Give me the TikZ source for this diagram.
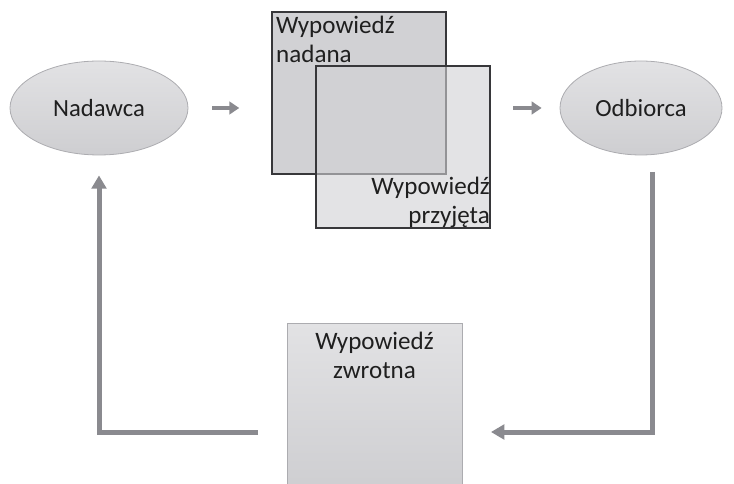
\documentclass[tikz,border=0pt]{standalone}
\usepackage{fontspec}
\setmainfont{Carlito}
\usetikzlibrary{shapes.geometric,arrows.meta}

\definecolor{arrowgray}{RGB}{138,138,143}
\definecolor{boxborder}{RGB}{55,55,58}
\definecolor{boxfill}{RGB}{209,209,212}
\definecolor{ovaltop}{RGB}{226,226,228}
\definecolor{ovalbottom}{RGB}{206,206,209}
\definecolor{ovalborder}{RGB}{172,172,176}

\begin{document}
\begin{tikzpicture}[x=0.75pt, y=-0.75pt,
  oval/.style={ellipse, draw=ovalborder, line width=0.6pt, top color=ovaltop, bottom color=ovalbottom, inner sep=0pt, font=\fontsize{18.5}{22}\selectfont, text=black!88},
  frame/.style={rectangle, draw=boxborder, line width=1.1pt, fill=boxfill, minimum width=130.5pt, minimum height=121.5pt},
  boxtext/.style={font=\fontsize{18.8}{21.5}\selectfont, text=black!88},
  smallarrow/.style={draw=arrowgray, line width=3pt, -{Triangle[length=7.5pt,width=9.5pt]}},
  feedback/.style={draw=arrowgray, line width=3.75pt, -{Triangle[length=10pt,width=11pt]}}]
\useasboundingbox (0,0) rectangle (734,484);
% senders and receivers
\node[oval, minimum width=133.5pt, minimum height=70.5pt] (nadawca) at (99,108) {Nadawca};
\node[oval, minimum width=121.5pt, minimum height=70.5pt] (odbiorca) at (641,108) {Odbiorca};
% message boxes
\node[frame] (nadana) at (359,93) {};
\node[frame, fill opacity=0.6] (przyjeta) at (403,147) {};
\node[boxtext, anchor=north west, align=left, inner sep=3.5pt] (tnadana) at (nadana.north west) {Wypowiedź\\nadana};
\node[boxtext, anchor=south east, align=right, inner sep=0.5pt] (tprzyjeta) at (przyjeta.south east) {Wypowiedź\\przyjęta};
% feedback box
\node[rectangle, draw=ovalborder, line width=0.6pt, top color=ovaltop, bottom color=ovalbottom, minimum width=131.25pt, minimum height=125.25pt] (zwrotna) at (374.5,406.5) {};
\node[boxtext, anchor=north, align=center, inner sep=7pt] (tzwrotna) at (zwrotna.north) {Wypowiedź\\zwrotna};
% arrows
\draw[smallarrow, shorten <=18pt, shorten >=24pt] (nadawca.east) -- (nadawca.east -| nadana.west);
\draw[smallarrow, shorten <=17pt, shorten >=13.5pt] (odbiorca.west -| przyjeta.east) -- (odbiorca.west);
\coordinate (outR) at (652,172);
\coordinate (inR) at (491,432);
\coordinate (outL) at (258,432);
\draw[feedback] (outR) |- (inR);
\draw[feedback, shorten >=15pt] (outL) -| (nadawca.south);
\end{tikzpicture}
\end{document}
